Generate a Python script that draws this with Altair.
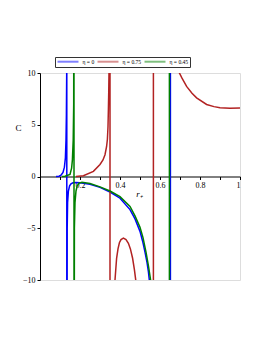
import altair as alt
import pandas as pd

# eta = 0 (blue)
r_q0 = [0.08, 0.095, 0.105, 0.115, 0.122, 0.127, 0.130, 0.132, 0.1335, 0.134,
        0.134, 0.136, 0.138, 0.142, 0.148, 0.155, 0.165, 0.18, 0.2, 0.25, 0.3,
        0.35, 0.4, 0.45, 0.475, 0.5, 0.515, 0.525, 0.535, 0.542, 0.55, 0.56,
        0.652, 0.652, 1.0]
c_q0 = [0.0, 0.03, 0.12, 0.4, 0.9, 1.8, 3.5, 6.0, 10.0, 40.0,
        -40.0, -5.0, -2.5, -1.4, -0.9, -0.7, -0.6, -0.58, -0.6, -0.75, -1.05,
        -1.5, -2.1, -3.2, -4.1, -5.3, -6.4, -7.3, -8.3, -9.2, -10.6, -40.0,
        -40.0, 40.0, 40.0]

# eta = 0.75 (red)
r_q75 = [0.18, 0.217, 0.267, 0.3, 0.315, 0.325, 0.333, 0.337, 0.340, 0.342,
         0.3435, 0.345, 0.35, 0.35,
         0.36, 0.375, 0.383, 0.39, 0.397, 0.405, 0.417, 0.43, 0.442, 0.452,
         0.463, 0.472, 0.48, 0.5, 0.567, 0.567,
         0.65, 0.67, 0.692, 0.71, 0.733, 0.76, 0.783, 0.833, 0.87, 0.9, 0.95, 1.0]
c_q75 = [0.0, 0.07, 0.5, 1.16, 1.6, 2.1, 2.9, 3.6, 4.8, 6.5,
         8.0, 10.0, 40.0, -40.0,
         -20.0, -10.0, -7.9, -7.0, -6.4, -6.1, -5.96, -6.1, -6.45, -7.0,
         -7.9, -9.0, -10.2, -20.0, -40.0, 40.0,
         14.0, 11.6, 10.2, 9.5, 8.7, 8.05, 7.6, 6.96, 6.75, 6.64, 6.6, 6.62]

# eta = 0.45 (green)
r_q45 = [0.11, 0.125, 0.15, 0.158, 0.162, 0.166, 0.1685, 0.17, 0.17,
         0.172, 0.175, 0.18, 0.186, 0.195, 0.21, 0.25, 0.3, 0.35, 0.4, 0.45,
         0.475, 0.5, 0.515, 0.53, 0.542, 0.553, 0.56, 0.57, 0.647, 0.647, 1.0]
c_q45 = [0.0, 0.02, 0.2, 0.8, 1.6, 3.5, 7.0, 40.0, -40.0,
         -5.0, -2.5, -1.4, -0.9, -0.65, -0.55, -0.68, -1.0, -1.4, -1.95, -2.9,
         -3.8, -4.9, -5.9, -7.3, -8.6, -10.0, -12.0, -40.0, -40.0, 40.0, 40.0]

labels = ["η = 0", "η = 0.75", "η = 0.45"]
colors = ["#0000ff", "#b22222", "#008000"]

x_ticks = [0.1, 0.2, 0.3, 0.4, 0.5, 0.6, 0.7, 0.8, 0.9, 1.0]
y_ticks = [-10, -5, 0, 5, 10]

rows = []
for lab, rs, cs in zip(labels, [r_q0, r_q75, r_q45], [c_q0, c_q75, c_q45]):
    for i, (r, c) in enumerate(zip(rs, cs)):
        rows.append({"r": r, "C": c, "series": lab, "idx": i})
df = pd.DataFrame(rows)

font = "Liberation Serif"

chart = alt.Chart(df).mark_line(strokeWidth=1.5, clip=True).encode(
    x=alt.X("r:Q", scale=alt.Scale(domain=[0, 1], nice=False, zero=False),
            axis=alt.Axis(values=x_ticks, format="~g",
                          labelExpr="(round(datum.value*10) % 2 == 0) ? datum.label : ''",
                          offset=-103.5, domainColor="black", tickColor="black",
                          tickSize=3, labelFont=font, labelFontSize=8,
                          labelColor="black", grid=False, labelPadding=2,
                          title="r₊", titleFont=font, titleFontStyle="italic",
                          titleFontWeight="normal", titleFontSize=9,
                          titleX=99, titleY=20, titleBaseline="alphabetic",
                          titleColor="black")),
    y=alt.Y("C:Q", scale=alt.Scale(domain=[-10, 10], nice=False),
            axis=alt.Axis(values=y_ticks, domainColor="black", tickColor="black",
                          tickSize=3, labelFont=font, labelFontSize=8,
                          labelColor="black", grid=False, labelPadding=2,
                          title="C", titleAngle=0, titleFont=font,
                          titleFontWeight="normal", titleFontSize=9,
                          titleX=-22, titleY=54, titleAlign="center",
                          titleBaseline="middle", titleColor="black")),
    color=alt.Color("series:N",
                    scale=alt.Scale(domain=labels, range=colors),
                    legend=alt.Legend(orient="none", legendX=15, legendY=-16,
                                      direction="horizontal", title=None,
                                      symbolType="stroke", symbolSize=440,
                                      symbolStrokeWidth=2, symbolOpacity=0.5,
                                      clipHeight=6,
                                      labelFont=font, labelFontSize=5.6,
                                      labelColor="black", labelOffset=3,
                                      columnPadding=2, padding=1.5,
                                      strokeColor="#333333", fillColor="white")),
    detail="series:N",
    order=alt.Order("idx:Q"),
).properties(
    width=200, height=207,
    autosize=alt.AutoSizeParams(type="none"),
    padding={"left": 32, "top": 65, "right": 14, "bottom": 51},
).configure_view(stroke=None).configure(background="white")

chart.save("out.html", embed_options={"renderer": "svg", "actions": False})
